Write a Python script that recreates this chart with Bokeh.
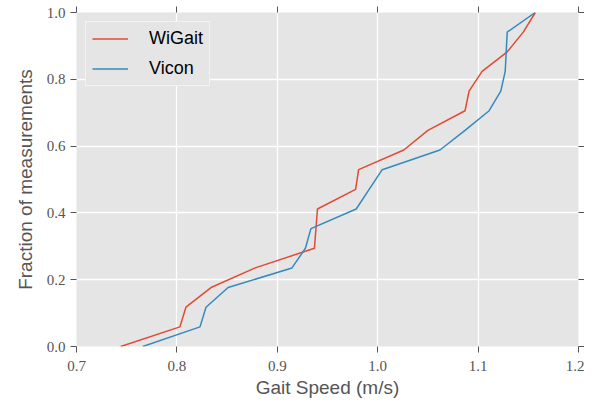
from bokeh.plotting import figure
from bokeh.models import (Range1d, FixedTicker, PrintfTickFormatter, CustomJSTickFormatter,
                          LinearAxis, Legend, LegendItem)
from bokeh.embed import file_html
from bokeh.resources import INLINE

# fraction of measurements (k/17)
fractions = [k / 17 for k in range(18)]
wigait_speed = [0.744, 0.803, 0.809, 0.834, 0.878, 0.937, 0.9385, 0.940, 0.978,
                0.981, 1.026, 1.050, 1.087, 1.091, 1.104, 1.129, 1.145, 1.157]
vicon_speed = [0.766, 0.823, 0.829, 0.851, 0.9146, 0.928, 0.9335, 0.9786, 0.9915,
               1.0045, 1.062, 1.087, 1.111, 1.1226, 1.127, 1.128, 1.129, 1.157]
x_ticks = [0.7, 0.8, 0.9, 1.0, 1.1, 1.2]
y_ticks = [0.0, 0.2, 0.4, 0.6, 0.8, 1.0]

RED = "#E24A33"
BLUE = "#348ABD"
GRAY = "#555555"

p = figure(frame_width=502, frame_height=334, output_backend="svg", toolbar_location=None,
           x_range=Range1d(0.7, 1.2), y_range=Range1d(0.0, 1.0),
           background_fill_color="#E5E5E5", border_fill_color="white",
           min_border_left=76, min_border_top=12, min_border_right=6, min_border_bottom=0)
p.outline_line_color = None

def style_axis(ax, ticks, show_labels=True):
    ax.ticker = FixedTicker(ticks=ticks)
    ax.axis_line_color = None
    ax.major_tick_line_color = GRAY
    ax.major_tick_in = 0
    ax.major_tick_out = 6
    ax.minor_tick_line_color = None
    ax.major_label_text_font = "Liberation Serif"
    ax.major_label_text_color = GRAY
    ax.major_label_text_font_size = "15px"
    if show_labels:
        ax.formatter = PrintfTickFormatter(format="%.1f")
        ax.major_label_standoff = 5
    else:
        ax.formatter = CustomJSTickFormatter(code="return ''")
        ax.major_label_standoff = 0
    ax.axis_label_text_font = "Liberation Sans"
    ax.axis_label_text_font_style = "normal"
    ax.axis_label_text_font_size = "19px"
    ax.axis_label_text_color = GRAY

style_axis(p.xaxis[0], x_ticks)
style_axis(p.yaxis[0], y_ticks)
p.xaxis[0].major_label_standoff = 8
p.xaxis[0].axis_label = "Gait Speed (m/s)"
p.xaxis[0].axis_label_standoff = 3
p.yaxis[0].axis_label = "Fraction of measurements"
p.yaxis[0].axis_label_standoff = 8

top = LinearAxis()
style_axis(top, x_ticks, show_labels=False)
p.add_layout(top, "above")
right = LinearAxis()
style_axis(right, y_ticks, show_labels=False)
p.add_layout(right, "right")

p.xgrid.ticker = FixedTicker(ticks=x_ticks)
p.ygrid.ticker = FixedTicker(ticks=y_ticks)
p.grid.grid_line_color = "white"
p.grid.grid_line_width = 1.3

r1 = p.line(wigait_speed, fractions, line_color=RED, line_width=1.5)
r2 = p.line(vicon_speed, fractions, line_color=BLUE, line_width=1.5)

legend = Legend(items=[LegendItem(label="WiGait", renderers=[r1]),
                       LegendItem(label="Vicon", renderers=[r2])],
                location="top_left")
legend.margin = 9
legend.padding = 6
legend.spacing = 9
legend.glyph_width = 36
legend.glyph_height = 19
legend.label_height = 19
legend.label_standoff = 21
legend.label_text_font = "Liberation Sans"
legend.label_text_font_size = "18px"
legend.label_text_color = "black"
legend.background_fill_color = "#E5E5E5"
legend.background_fill_alpha = 1.0
legend.border_line_color = "white"
legend.border_line_width = 1
p.add_layout(legend)

open("out.html", "w").write(file_html(p, INLINE))
